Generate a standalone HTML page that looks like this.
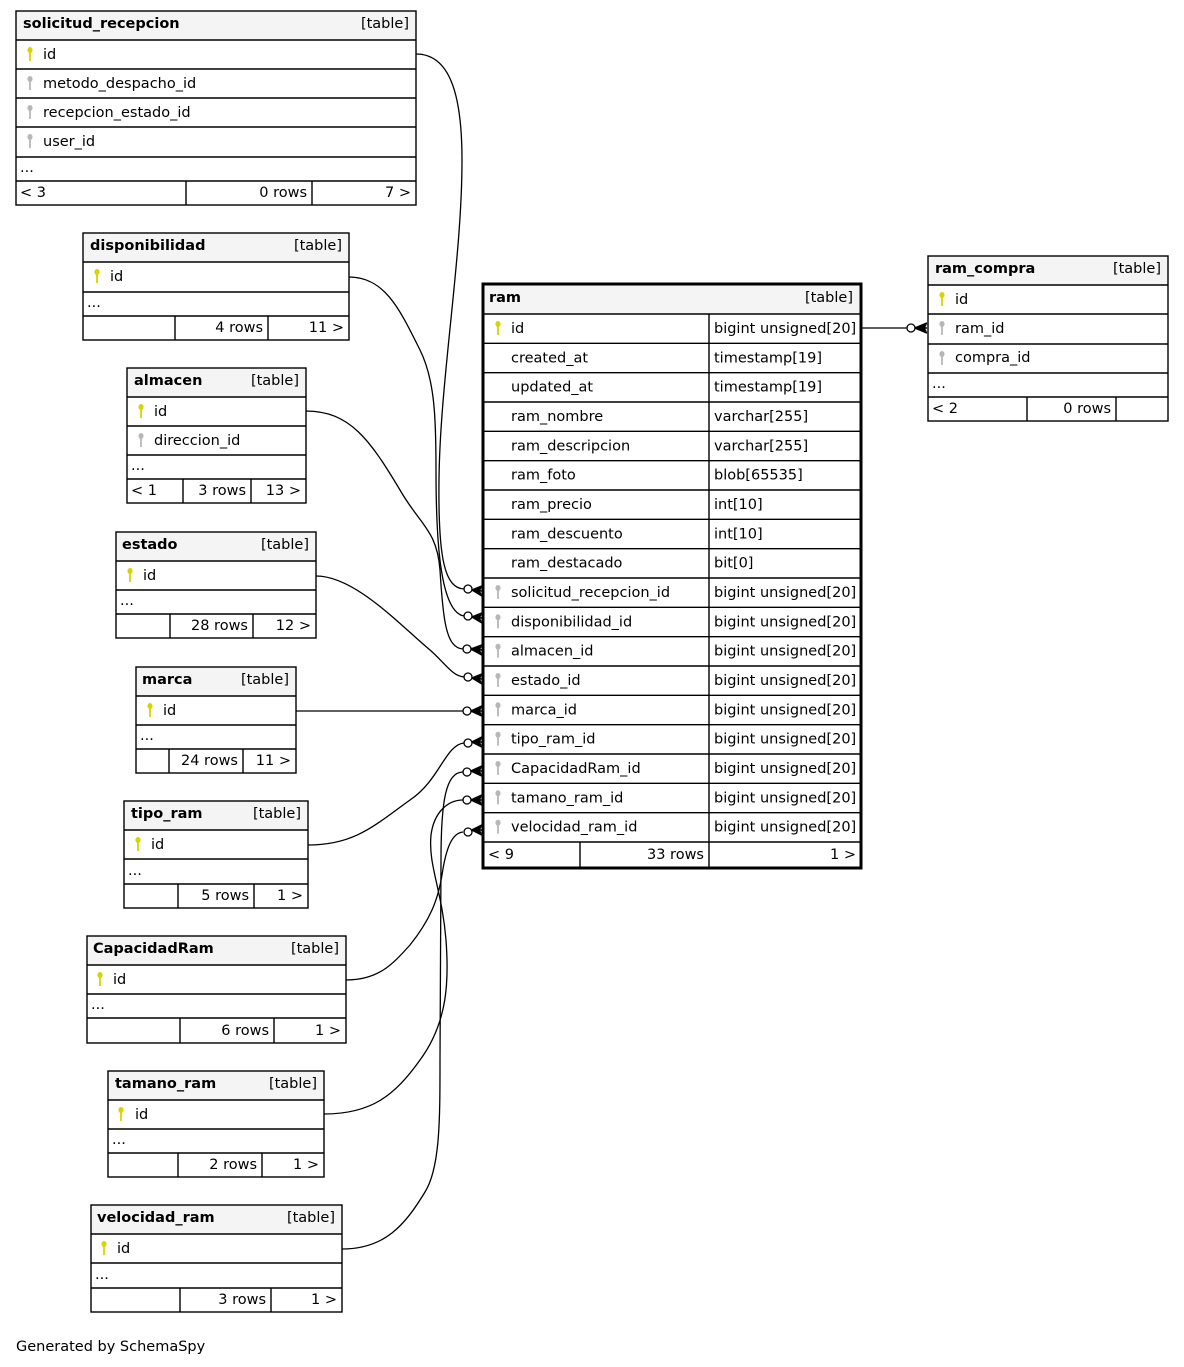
<!DOCTYPE html>
<html>
<head>
<meta charset="utf-8">
<style>
html,body{margin:0;padding:0;background:#fff;}
svg{display:block;}
text{font-family:"DejaVu Sans","Liberation Sans",sans-serif;font-size:14.5px;fill:#000;}
.b{font-weight:bold;}
.e{text-anchor:end;}
.ln{stroke:#000;stroke-width:1.4;fill:none;}
.hd{fill:#f4f4f4;}
.edge{stroke:#000;stroke-width:1.3;fill:none;}
.circ{fill:#fff;stroke:#000;stroke-width:1.3;}
.pk{fill:#d8d400;}
.fk{fill:#b8b8b8;}
</style>
</head>
<body>
<svg width="1184" height="1367" viewBox="0 0 1184 1367" xmlns="http://www.w3.org/2000/svg">
<rect x="0" y="0" width="1184" height="1367" fill="#fff"/>

<!-- ===== EDGES ===== -->
<path class="edge" d="M416,54 C448,54 462,90 462,160 C462,260 440,380 439,480 C438,560 445,588 464,589"/>
<path class="edge" d="M349,277 C385,277 400,310 420,350 C435,380 436,420 436,470 C436,540 440,612 464,616"/>
<path class="edge" d="M306,411 C350,411 370,440 400,490 C420,525 437,530 440,570 C443,620 446,648 463,649"/>
<path class="edge" d="M316,576 C355,576 400,625 430,650 C445,663 452,676 464,677"/>
<path class="edge" d="M296,711 L463,711"/>
<path class="edge" d="M308,845 C355,845 375,825 410,800 C440,780 445,745 464,743"/>
<path class="edge" d="M346,980 C378,980 392,965 410,945 C430,920 438,900 442,875 C446,848 452,833 463,832"/>
<path class="edge" d="M324,1114 C372,1114 395,1095 420,1060 C448,1022 449,980 446,940 C442,890 428,865 431,835 C434,812 448,800 463,800"/>
<path class="edge" d="M342,1249 C385,1249 405,1225 425,1192 C440,1168 440,1120 440,1060 L441,860 C441,800 446,772 463,772"/>
<path class="edge" d="M861,328 L907,328"/>

<!-- crows + circles (ram) -->
<g>
<circle class="circ" cx="468" cy="589" r="4"/>
<path d="M472,590 L482,586 M472,590 L482,591 M472,590 L482,596" stroke="#000" stroke-width="1.6" fill="none"/>
<polygon points="472,590 482,587 480,591 482,595" fill="#000"/>

<circle class="circ" cx="468" cy="616" r="4"/>
<path d="M472,617 L482,613 M472,617 L482,618 M472,617 L482,623" stroke="#000" stroke-width="1.6" fill="none"/>
<polygon points="472,617 482,614 480,618 482,622" fill="#000"/>

<circle class="circ" cx="467" cy="649" r="4"/>
<path d="M471,649 L482,645 M471,649 L482,650 M471,649 L482,655" stroke="#000" stroke-width="1.6" fill="none"/>
<polygon points="471,649 482,646 480,650 482,654" fill="#000"/>

<circle class="circ" cx="468" cy="677" r="4"/>
<path d="M472,678 L482,674 M472,678 L482,679 M472,678 L482,684" stroke="#000" stroke-width="1.6" fill="none"/>
<polygon points="472,678 482,675 480,679 482,683" fill="#000"/>

<circle class="circ" cx="467" cy="711" r="4"/>
<path d="M471,711 L482,706 M471,711 L482,711 M471,711 L482,716" stroke="#000" stroke-width="1.6" fill="none"/>
<polygon points="471,711 482,707 480,711 482,715" fill="#000"/>

<circle class="circ" cx="468" cy="743" r="4"/>
<path d="M472,742 L482,737 M472,742 L482,742 M472,742 L482,747" stroke="#000" stroke-width="1.6" fill="none"/>
<polygon points="472,742 482,738 480,742 482,746" fill="#000"/>

<circle class="circ" cx="467" cy="772" r="4"/>
<path d="M471,771 L482,766 M471,771 L482,771 M471,771 L482,776" stroke="#000" stroke-width="1.6" fill="none"/>
<polygon points="471,771 482,767 480,771 482,775" fill="#000"/>

<circle class="circ" cx="467" cy="800" r="4"/>
<path d="M471,800 L482,795 M471,800 L482,800 M471,800 L482,805" stroke="#000" stroke-width="1.6" fill="none"/>
<polygon points="471,800 482,796 480,800 482,804" fill="#000"/>

<circle class="circ" cx="468" cy="832" r="4"/>
<path d="M472,830 L482,825 M472,830 L482,830 M472,830 L482,835" stroke="#000" stroke-width="1.6" fill="none"/>
<polygon points="472,830 482,826 480,830 482,834" fill="#000"/>

<circle class="circ" cx="911" cy="328" r="4"/>
<path d="M915,328 L927,323 M915,328 L927,328 M915,328 L927,333" stroke="#000" stroke-width="1.6" fill="none"/>
<polygon points="915,328 927,324 925,328 927,332" fill="#000"/>
</g>

<!-- ===== solicitud_recepcion ===== -->
<rect class="hd" x="16" y="11" width="400" height="29"/>
<rect class="ln" x="16" y="11" width="400" height="194"/>
<path class="ln" d="M16,40H416 M16,69H416 M16,98H416 M16,127H416 M16,157H416 M16,181H416 M186,181V205 M312,181V205"/>
<text class="b" x="23" y="28">solicitud_recepcion</text>
<text class="e" x="409" y="28">[table]</text>
<ellipse class="pk" cx="30" cy="50" rx="2.6" ry="3"/><rect class="pk" x="29.1" y="50" width="1.8" height="11"/>
<text x="43" y="59">id</text>
<ellipse class="fk" cx="30" cy="79" rx="2.6" ry="3"/><rect class="fk" x="29.1" y="79" width="1.8" height="11"/>
<text x="43" y="88">metodo_despacho_id</text>
<ellipse class="fk" cx="30" cy="108" rx="2.6" ry="3"/><rect class="fk" x="29.1" y="108" width="1.8" height="11"/>
<text x="43" y="117">recepcion_estado_id</text>
<ellipse class="fk" cx="30" cy="137" rx="2.6" ry="3"/><rect class="fk" x="29.1" y="137" width="1.8" height="11"/>
<text x="43" y="146">user_id</text>
<text x="20" y="172">...</text>
<text x="20" y="197">&lt; 3</text>
<text class="e" x="307" y="197">0 rows</text>
<text class="e" x="411" y="197">7 &gt;</text>

<!-- ===== disponibilidad ===== -->
<rect class="hd" x="83" y="233" width="266" height="29"/>
<rect class="ln" x="83" y="233" width="266" height="107"/>
<path class="ln" d="M83,262H349 M83,292H349 M83,316H349 M175,316V340 M268,316V340"/>
<text class="b" x="90" y="250">disponibilidad</text>
<text class="e" x="342" y="250">[table]</text>
<ellipse class="pk" cx="97" cy="272" rx="2.6" ry="3"/><rect class="pk" x="96.1" y="272" width="1.8" height="11"/>
<text x="110" y="281">id</text>
<text x="87" y="307">...</text>
<text class="e" x="263" y="332">4 rows</text>
<text class="e" x="344" y="332">11 &gt;</text>

<!-- ===== almacen ===== -->
<rect class="hd" x="127" y="368" width="179" height="29"/>
<rect class="ln" x="127" y="368" width="179" height="135"/>
<path class="ln" d="M127,397H306 M127,426H306 M127,455H306 M127,479H306 M183,479V503 M251,479V503"/>
<text class="b" x="134" y="385">almacen</text>
<text class="e" x="299" y="385">[table]</text>
<ellipse class="pk" cx="141" cy="407" rx="2.6" ry="3"/><rect class="pk" x="140.1" y="407" width="1.8" height="11"/>
<text x="154" y="416">id</text>
<ellipse class="fk" cx="141" cy="436" rx="2.6" ry="3"/><rect class="fk" x="140.1" y="436" width="1.8" height="11"/>
<text x="154" y="445">direccion_id</text>
<text x="131" y="470">...</text>
<text x="131" y="495">&lt; 1</text>
<text class="e" x="246" y="495">3 rows</text>
<text class="e" x="301" y="495">13 &gt;</text>

<!-- ===== estado ===== -->
<rect class="hd" x="116" y="532" width="200" height="29"/>
<rect class="ln" x="116" y="532" width="200" height="106"/>
<path class="ln" d="M116,561H316 M116,590H316 M116,614H316 M170,614V638 M253,614V638"/>
<text class="b" x="122" y="549">estado</text>
<text class="e" x="309" y="549">[table]</text>
<ellipse class="pk" cx="130" cy="571" rx="2.6" ry="3"/><rect class="pk" x="129.1" y="571" width="1.8" height="11"/>
<text x="143" y="580">id</text>
<text x="120" y="605">...</text>
<text class="e" x="248" y="630">28 rows</text>
<text class="e" x="311" y="630">12 &gt;</text>

<!-- ===== marca ===== -->
<rect class="hd" x="136" y="667" width="160" height="29"/>
<rect class="ln" x="136" y="667" width="160" height="106"/>
<path class="ln" d="M136,696H296 M136,725H296 M136,749H296 M169,749V773 M243,749V773"/>
<text class="b" x="142" y="684">marca</text>
<text class="e" x="289" y="684">[table]</text>
<ellipse class="pk" cx="150" cy="706" rx="2.6" ry="3"/><rect class="pk" x="149.1" y="706" width="1.8" height="11"/>
<text x="163" y="715">id</text>
<text x="140" y="740">...</text>
<text class="e" x="238" y="765">24 rows</text>
<text class="e" x="291" y="765">11 &gt;</text>

<!-- ===== tipo_ram ===== -->
<rect class="hd" x="124" y="801" width="184" height="29"/>
<rect class="ln" x="124" y="801" width="184" height="107"/>
<path class="ln" d="M124,830H308 M124,859H308 M124,884H308 M178,884V908 M254,884V908"/>
<text class="b" x="131" y="818">tipo_ram</text>
<text class="e" x="301" y="818">[table]</text>
<ellipse class="pk" cx="138" cy="840" rx="2.6" ry="3"/><rect class="pk" x="137.1" y="840" width="1.8" height="11"/>
<text x="151" y="849">id</text>
<text x="128" y="875">...</text>
<text class="e" x="249" y="900">5 rows</text>
<text class="e" x="303" y="900">1 &gt;</text>

<!-- ===== CapacidadRam ===== -->
<rect class="hd" x="87" y="936" width="259" height="29"/>
<rect class="ln" x="87" y="936" width="259" height="107"/>
<path class="ln" d="M87,965H346 M87,994H346 M87,1018H346 M180,1018V1043 M274,1018V1043"/>
<text class="b" x="93" y="953">CapacidadRam</text>
<text class="e" x="339" y="953">[table]</text>
<ellipse class="pk" cx="100" cy="975" rx="2.6" ry="3"/><rect class="pk" x="99.1" y="975" width="1.8" height="11"/>
<text x="113" y="984">id</text>
<text x="91" y="1009">...</text>
<text class="e" x="269" y="1035">6 rows</text>
<text class="e" x="341" y="1035">1 &gt;</text>

<!-- ===== tamano_ram ===== -->
<rect class="hd" x="108" y="1071" width="216" height="29"/>
<rect class="ln" x="108" y="1071" width="216" height="106"/>
<path class="ln" d="M108,1100H324 M108,1129H324 M108,1153H324 M178,1153V1177 M262,1153V1177"/>
<text class="b" x="115" y="1088">tamano_ram</text>
<text class="e" x="317" y="1088">[table]</text>
<ellipse class="pk" cx="121" cy="1110" rx="2.6" ry="3"/><rect class="pk" x="120.1" y="1110" width="1.8" height="11"/>
<text x="135" y="1119">id</text>
<text x="112" y="1144">...</text>
<text class="e" x="257" y="1169">2 rows</text>
<text class="e" x="319" y="1169">1 &gt;</text>

<!-- ===== velocidad_ram ===== -->
<rect class="hd" x="91" y="1205" width="251" height="29"/>
<rect class="ln" x="91" y="1205" width="251" height="107"/>
<path class="ln" d="M91,1234H342 M91,1263H342 M91,1288H342 M180,1288V1312 M271,1288V1312"/>
<text class="b" x="97" y="1222">velocidad_ram</text>
<text class="e" x="335" y="1222">[table]</text>
<ellipse class="pk" cx="104" cy="1244" rx="2.6" ry="3"/><rect class="pk" x="103.1" y="1244" width="1.8" height="11"/>
<text x="117" y="1253">id</text>
<text x="95" y="1279">...</text>
<text class="e" x="266" y="1304">3 rows</text>
<text class="e" x="337" y="1304">1 &gt;</text>

<!-- ===== ram_compra ===== -->
<rect class="hd" x="928" y="256" width="240" height="29"/>
<rect class="ln" x="928" y="256" width="240" height="165"/>
<path class="ln" d="M928,285H1168 M928,314H1168 M928,344H1168 M928,373H1168 M928,397H1168 M1027,397V421 M1116,397V421"/>
<text class="b" x="935" y="273">ram_compra</text>
<text class="e" x="1161" y="273">[table]</text>
<ellipse class="pk" cx="942" cy="295" rx="2.6" ry="3"/><rect class="pk" x="941.1" y="295" width="1.8" height="11"/>
<text x="955" y="304">id</text>
<ellipse class="fk" cx="942" cy="324" rx="2.6" ry="3"/><rect class="fk" x="941.1" y="324" width="1.8" height="11"/>
<text x="955" y="333">ram_id</text>
<ellipse class="fk" cx="942" cy="354" rx="2.6" ry="3"/><rect class="fk" x="941.1" y="354" width="1.8" height="11"/>
<text x="955" y="362">compra_id</text>
<text x="932" y="388">...</text>
<text x="932" y="413">&lt; 2</text>
<text class="e" x="1111" y="413">0 rows</text>

<!-- ===== ram ===== -->
<rect class="hd" x="483" y="284" width="378" height="30"/>
<path class="ln" d="M483,314H861 M483,343.3H861 M483,372.7H861 M483,402H861 M483,431.3H861 M483,460.7H861 M483,490H861 M483,519.3H861 M483,548.7H861 M483,578H861 M483,607.3H861 M483,636.7H861 M483,666H861 M483,695.3H861 M483,724.7H861 M483,754H861 M483,783.3H861 M483,812.7H861 M483,842H861 M709,314V868 M580,842V868"/>
<rect x="483" y="284" width="378" height="584" fill="none" stroke="#000" stroke-width="3"/>
<text class="b" x="489" y="302">ram</text>
<text class="e" x="853" y="302">[table]</text>

<ellipse class="pk" cx="498" cy="324" rx="2.6" ry="3"/><rect class="pk" x="497.1" y="324" width="1.8" height="11"/>
<text x="511" y="333">id</text><text x="714" y="333">bigint unsigned[20]</text>
<text x="511" y="362.3">created_at</text><text x="714" y="362.3">timestamp[19]</text>
<text x="511" y="391.7">updated_at</text><text x="714" y="391.7">timestamp[19]</text>
<text x="511" y="421">ram_nombre</text><text x="714" y="421">varchar[255]</text>
<text x="511" y="450.3">ram_descripcion</text><text x="714" y="450.3">varchar[255]</text>
<text x="511" y="479.7">ram_foto</text><text x="714" y="479.7">blob[65535]</text>
<text x="511" y="509">ram_precio</text><text x="714" y="509">int[10]</text>
<text x="511" y="538.3">ram_descuento</text><text x="714" y="538.3">int[10]</text>
<text x="511" y="567.7">ram_destacado</text><text x="714" y="567.7">bit[0]</text>

<ellipse class="fk" cx="498" cy="588" rx="2.6" ry="3"/><rect class="fk" x="497.1" y="588" width="1.8" height="11"/>
<text x="511" y="597">solicitud_recepcion_id</text><text x="714" y="597">bigint unsigned[20]</text>
<ellipse class="fk" cx="498" cy="617.3" rx="2.6" ry="3"/><rect class="fk" x="497.1" y="617.3" width="1.8" height="11"/>
<text x="511" y="626.3">disponibilidad_id</text><text x="714" y="626.3">bigint unsigned[20]</text>
<ellipse class="fk" cx="498" cy="646.7" rx="2.6" ry="3"/><rect class="fk" x="497.1" y="646.7" width="1.8" height="11"/>
<text x="511" y="655.7">almacen_id</text><text x="714" y="655.7">bigint unsigned[20]</text>
<ellipse class="fk" cx="498" cy="676" rx="2.6" ry="3"/><rect class="fk" x="497.1" y="676" width="1.8" height="11"/>
<text x="511" y="685">estado_id</text><text x="714" y="685">bigint unsigned[20]</text>
<ellipse class="fk" cx="498" cy="705.3" rx="2.6" ry="3"/><rect class="fk" x="497.1" y="705.3" width="1.8" height="11"/>
<text x="511" y="714.3">marca_id</text><text x="714" y="714.3">bigint unsigned[20]</text>
<ellipse class="fk" cx="498" cy="734.7" rx="2.6" ry="3"/><rect class="fk" x="497.1" y="734.7" width="1.8" height="11"/>
<text x="511" y="743.7">tipo_ram_id</text><text x="714" y="743.7">bigint unsigned[20]</text>
<ellipse class="fk" cx="498" cy="764" rx="2.6" ry="3"/><rect class="fk" x="497.1" y="764" width="1.8" height="11"/>
<text x="511" y="773">CapacidadRam_id</text><text x="714" y="773">bigint unsigned[20]</text>
<ellipse class="fk" cx="498" cy="793.3" rx="2.6" ry="3"/><rect class="fk" x="497.1" y="793.3" width="1.8" height="11"/>
<text x="511" y="802.3">tamano_ram_id</text><text x="714" y="802.3">bigint unsigned[20]</text>
<ellipse class="fk" cx="498" cy="822.7" rx="2.6" ry="3"/><rect class="fk" x="497.1" y="822.7" width="1.8" height="11"/>
<text x="511" y="831.7">velocidad_ram_id</text><text x="714" y="831.7">bigint unsigned[20]</text>

<text x="488" y="859">&lt; 9</text>
<text class="e" x="704" y="859">33 rows</text>
<text class="e" x="856" y="859">1 &gt;</text>

<text x="16" y="1351">Generated by SchemaSpy</text>
</svg>
</body>
</html>
